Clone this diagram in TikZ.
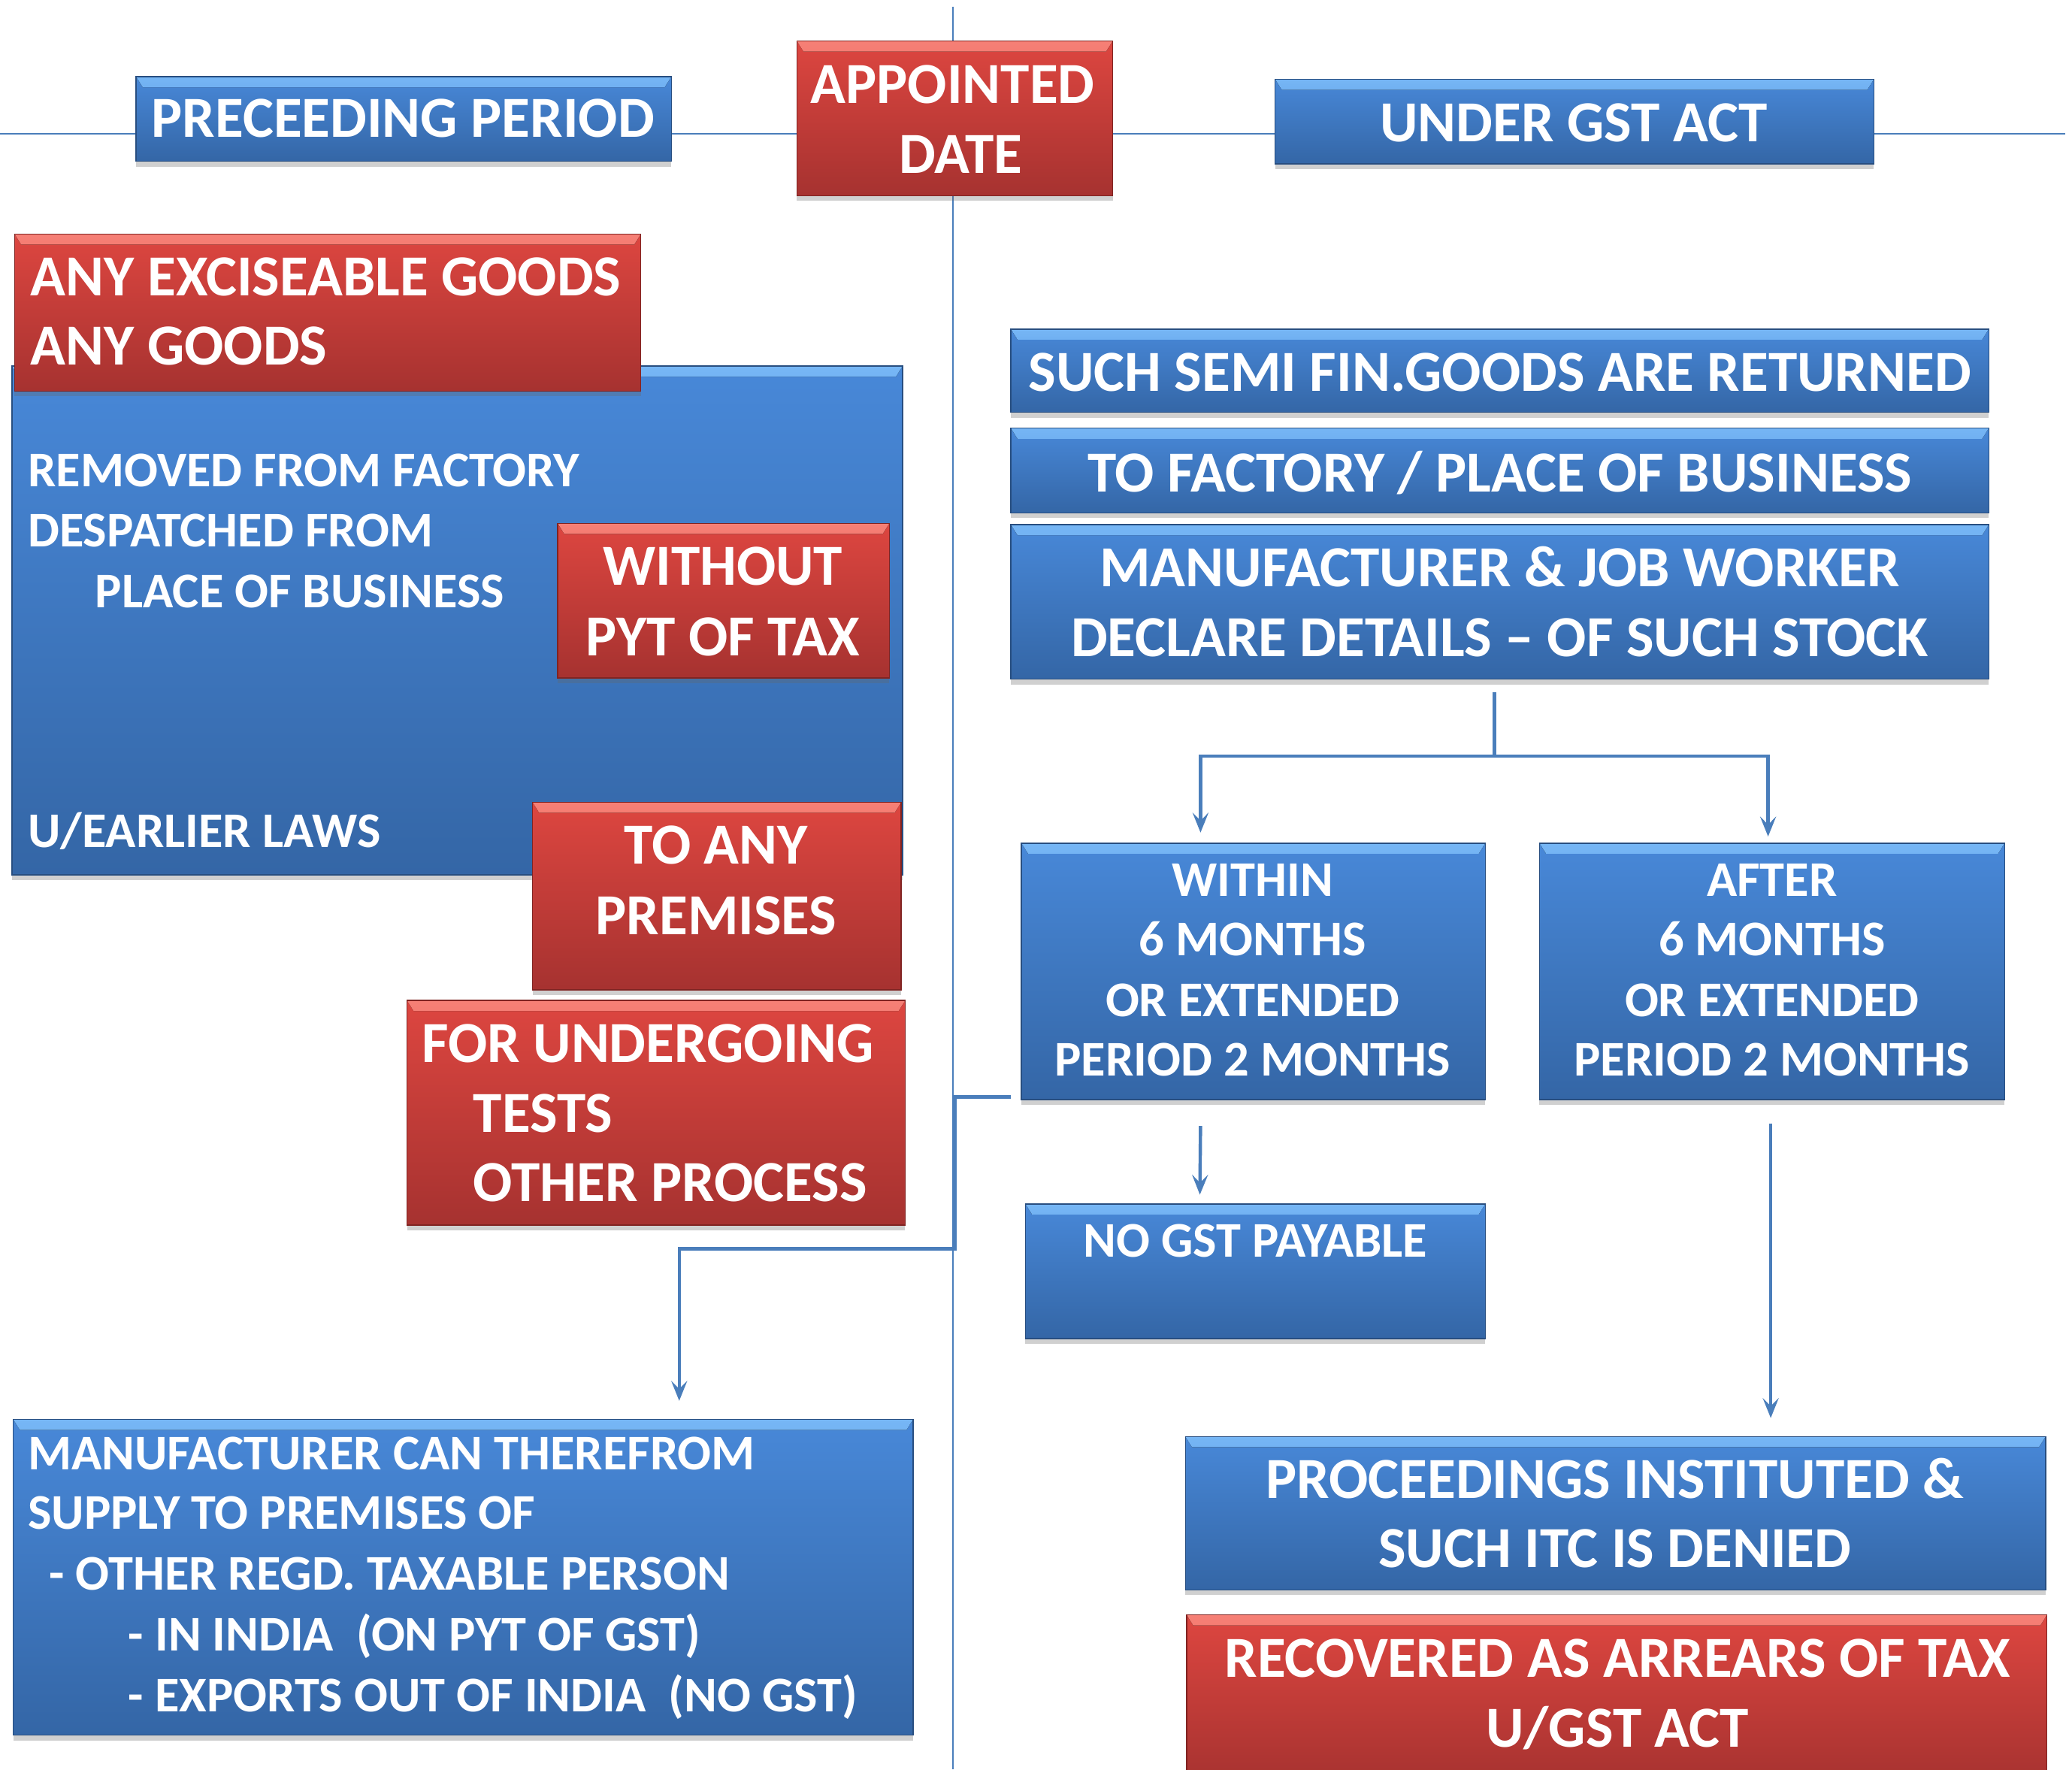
\documentclass[tikz,border=0pt]{standalone}
\usepackage{fontspec}
\setmainfont{Carlito}
\usetikzlibrary{arrows.meta,shadows}

\definecolor{bTop}{RGB}{72,136,216}
\definecolor{bBot}{RGB}{52,102,166}
\definecolor{bHi}{RGB}{118,182,245}
\definecolor{bEdge}{RGB}{40,78,128}
\definecolor{rTop}{RGB}{221,70,64}
\definecolor{rBot}{RGB}{166,50,48}
\definecolor{rHi}{RGB}{246,128,118}
\definecolor{rEdge}{RGB}{128,36,34}
\definecolor{lineblue}{RGB}{74,126,187}

\tikzset{
  panel/.style n args={4}{rectangle, inner sep=0pt, outer sep=0pt,
    draw=#4, line width=0.8pt, top color=#1, bottom color=#2,
    drop shadow={opacity=0.3, shadow xshift=0pt, shadow yshift=-4pt, fill=black!60},
    path picture={\fill[top color=#3, bottom color=#1]
      (path picture bounding box.north west) -- (path picture bounding box.north east)
      -- ([xshift=-5pt,yshift=-8pt]path picture bounding box.north east)
      -- ([xshift=5pt,yshift=-8pt]path picture bounding box.north west) -- cycle;}},
  bluebox/.style={panel={bTop}{bBot}{bHi}{bEdge}},
  redbox/.style={panel={rTop}{rBot}{rHi}{rEdge}},
  big/.style={text=white, inner sep=0pt, anchor=base, font=\fontsize{44}{52}\selectfont\bfseries},
  small/.style={text=white, inner sep=0pt, anchor=base, font=\fontsize{37.8}{46}\selectfont\bfseries},
  axis/.style={draw=lineblue, line width=1.2pt},
  conn/.style={draw=lineblue, line width=2.5pt},
  arr/.style={conn, -{Stealth[length=15pt,width=12pt,inset=6pt]}},
}

% box from top-left (x1,y1) to bottom-right (x2,y2)
\newcommand\panelbox[6]{%
  \pgfmathsetmacro\bxw{#5-#3}\pgfmathsetmacro\bxh{#6-#4}%
  \node[#2, anchor=north west, minimum width=\bxw pt, minimum height=\bxh pt] (#1) at (#3,#4) {};}

\begin{document}
\begin{tikzpicture}[x=1pt,y=-1pt]
\useasboundingbox[fill=white] (0,0) rectangle (1568,1339);

% time axes
\coordinate (hl) at (0,101);
\coordinate (hr) at (1563,101);
\coordinate (vt) at (721,5);
\coordinate (vb) at (721,1339);
\draw[axis] (hl) -- (hr);
\draw[axis] (vt) -- (vb);

% header row
\panelbox{prec}{bluebox}{103}{58}{508}{122}
\panelbox{appt}{redbox}{603}{31}{842}{148}
\panelbox{gst}{bluebox}{965}{60}{1418}{124}
\node[big] (tprec) at (305,104) {PRECEEDING PERIOD};
\node[big] (tappt1) at (721,78) {APPOINTED};
\node[big] (tappt2) at (727,131) {DATE};
\node[big] (tgst) at (1191,107) {UNDER GST ACT};

% left column
\panelbox{removed}{bluebox}{9}{277}{683}{662}
\panelbox{goods}{redbox}{11}{177}{485}{296}
\panelbox{without}{redbox}{422}{396}{673}{513}
\panelbox{premises}{redbox}{403}{607}{682}{749}
\panelbox{tests}{redbox}{308}{757}{685}{927}

\node[big, anchor=base west] (tgoods1) at (23,224) {ANY EXCISEABLE GOODS};
\node[big, anchor=base west] (tgoods2) at (23,276) {ANY GOODS};
\node[small, anchor=base west] (trem1) at (21,368) {REMOVED FROM FACTORY};
\node[small, anchor=base west] (trem2) at (21,414) {DESPATCHED FROM};
\node[small, anchor=base west] (trem3) at (72,460) {PLACE OF BUSINESS};
\node[small, anchor=base west] (trem4) at (21,641) {U/EARLIER LAWS};
\node[big] (twith1) at (547,443) {WITHOUT};
\node[big] (twith2) at (547,496) {PYT OF TAX};
\node[big] (tprem1) at (542,654) {TO ANY};
\node[big] (tprem2) at (542,707) {PREMISES};
\node[big, anchor=base west] (ttest1) at (319,804) {FOR UNDERGOING};
\node[big, anchor=base west] (ttest2) at (358,857) {TESTS};
\node[big, anchor=base west] (ttest3) at (358,909) {OTHER PROCESS};

\panelbox{mfg}{bluebox}{10}{1074}{691}{1313}
\node[small, anchor=base west] (tmfg1) at (21,1112) {MANUFACTURER CAN THEREFROM};
\node[small, anchor=base west] (tmfg2) at (21,1157) {SUPPLY TO PREMISES OF};
\node[small, anchor=base west] (tmfg3) at (37,1203) {- OTHER REGD. TAXABLE PERSON};
\node[small, anchor=base west] (tmfg4) at (97,1249) {- IN INDIA\ \ (ON PYT OF GST)};
\node[small, anchor=base west] (tmfg5) at (97,1295) {- EXPORTS OUT OF INDIA\ \ (NO GST)};

% right column
\panelbox{semi}{bluebox}{765}{249}{1505}{312}
\panelbox{factory}{bluebox}{765}{324}{1505}{388}
\panelbox{decl}{bluebox}{765}{397}{1505}{514}
\node[big] (tsemi) at (1135,296) {SUCH SEMI FIN.GOODS ARE RETURNED};
\node[big] (tfact) at (1135,372) {TO FACTORY / PLACE OF BUSINESS};
\node[big] (tdecl1) at (1135,444) {MANUFACTURER \& JOB WORKER};
\node[big] (tdecl2) at (1135,497) {DECLARE DETAILS – OF SUCH STOCK};

\panelbox{within}{bluebox}{773}{638}{1124}{832}
\panelbox{after}{bluebox}{1165}{638}{1517}{832}
\node[small] (twi1) at (948,678) {WITHIN};
\node[small] (twi2) at (948,723) {6 MONTHS};
\node[small] (twi3) at (948,769) {OR EXTENDED};
\node[small] (twi4) at (948,814) {PERIOD 2 MONTHS};
\node[small] (taf1) at (1341,678) {AFTER};
\node[small] (taf2) at (1341,723) {6 MONTHS};
\node[small] (taf3) at (1341,769) {OR EXTENDED};
\node[small] (taf4) at (1341,814) {PERIOD 2 MONTHS};

\panelbox{nogst}{bluebox}{776}{911}{1124}{1013}
\node[small] (tnogst) at (950,951) {NO GST PAYABLE};

\panelbox{proc}{bluebox}{897}{1087}{1548}{1203}
\node[big] (tproc1) at (1222,1134) {PROCEEDINGS INSTITUTED \&};
\node[big] (tproc2) at (1222,1186) {SUCH ITC IS DENIED};

\panelbox{recov}{redbox}{898}{1222}{1549}{1350}
\node[big] (trec1) at (1224,1269) {RECOVERED AS ARREARS OF TAX};
\node[big] (trec2) at (1224,1322) {U/GST ACT};

% connectors
\draw[conn] ([xshift=-4pt,yshift=-10pt]decl.south) -- ++(0,48) coordinate (split);
\draw[arr] (split) -| ([xshift=-40pt,yshift=8pt]within.north);
\draw[arr] (split) -| ([xshift=-3pt,yshift=5pt]after.north);
\draw[arr] ([xshift=-40pt,yshift=-20pt]within.south) -- ([xshift=-42pt,yshift=7pt]nogst.north);
\draw[arr] ([xshift=-1pt,yshift=-18pt]after.south) -- ([xshift=117.5pt,yshift=14pt]proc.north);
\draw[arr] ([xshift=-8pt,yshift=2pt]within.south west) -- ++(-42,0) -- ++(0,115)
  -| ([xshift=163.5pt,yshift=14pt]mfg.north);
\end{tikzpicture}
\end{document}
